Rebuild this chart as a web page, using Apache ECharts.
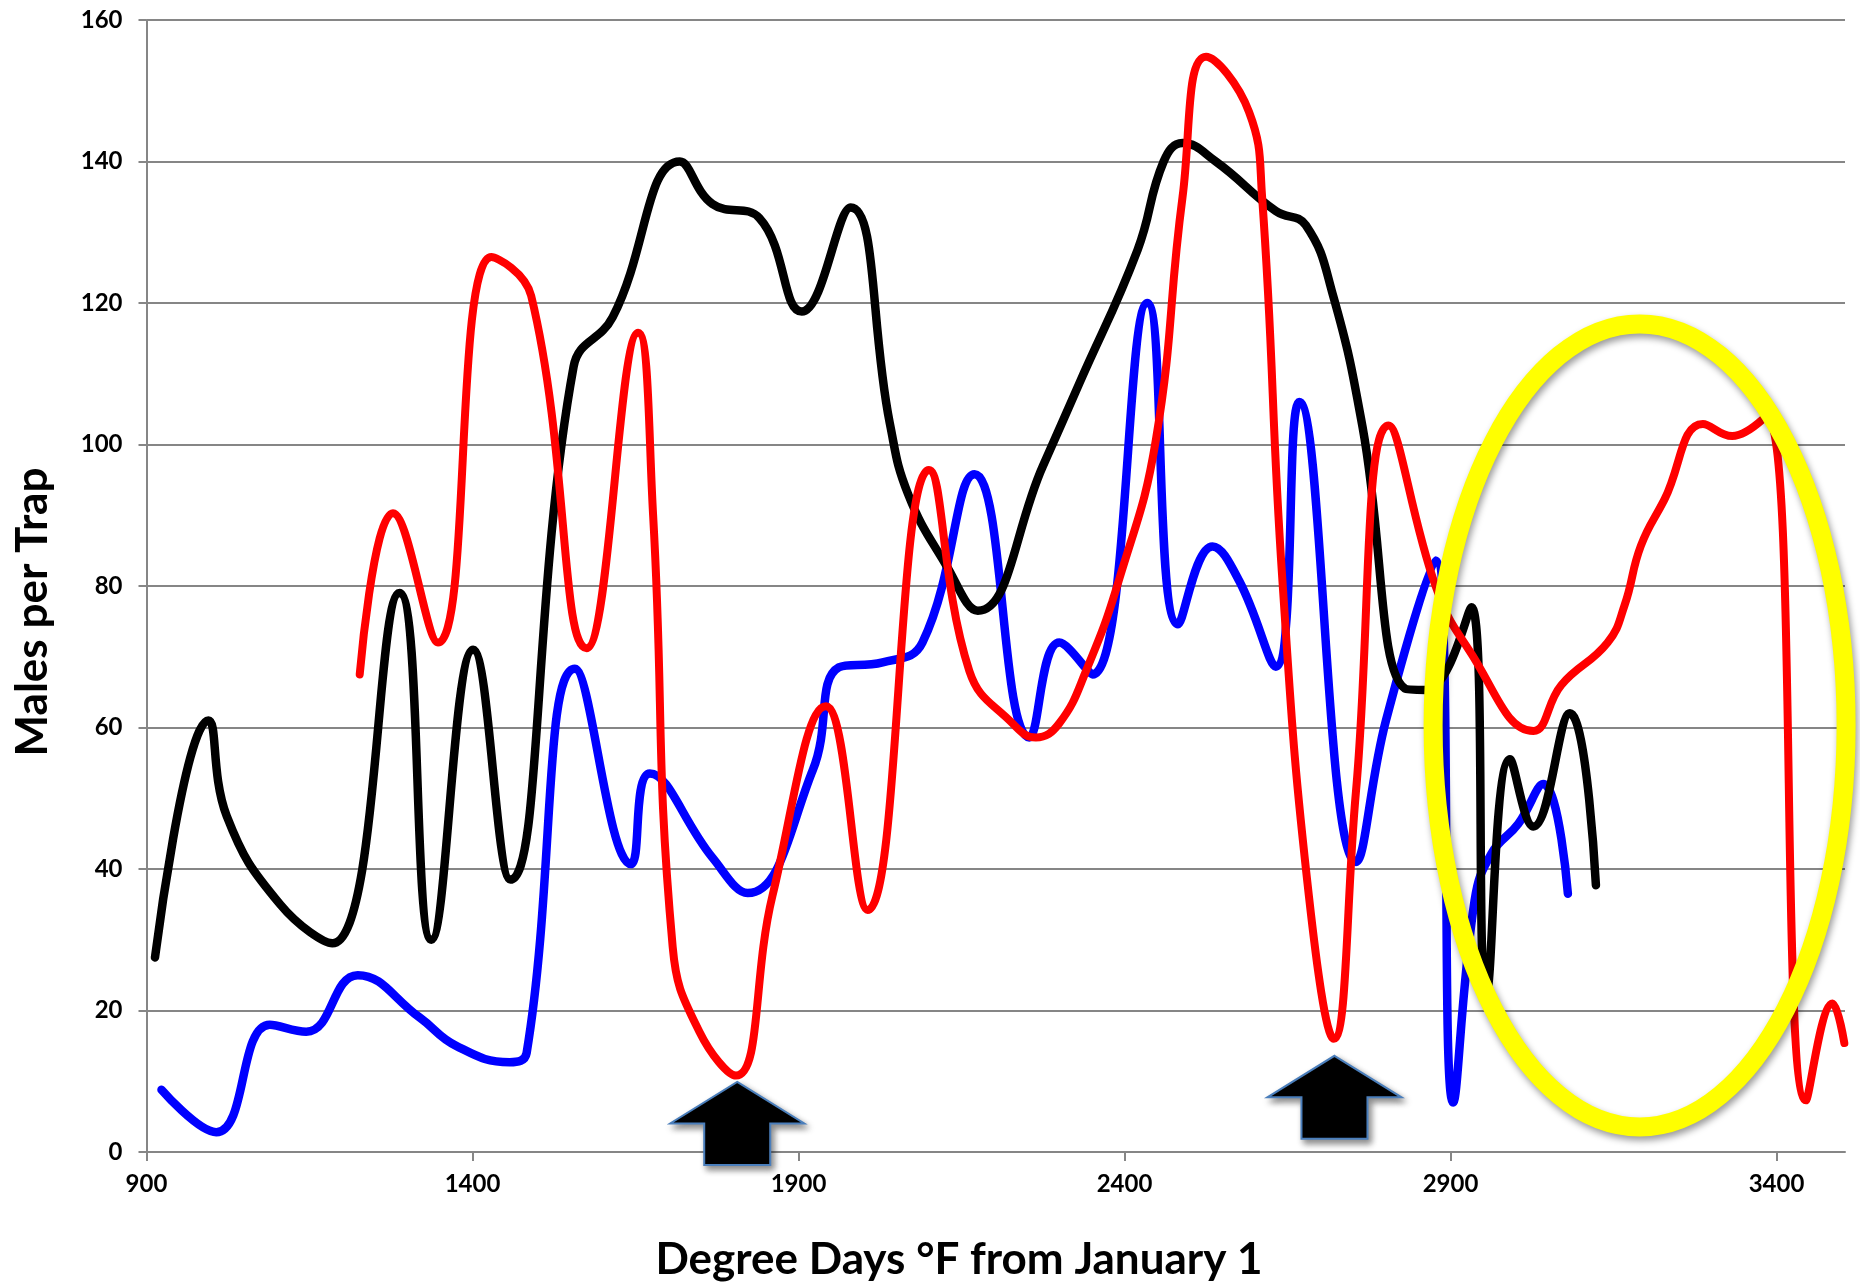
<!DOCTYPE html>
<html>
<head>
<meta charset="utf-8">
<script src="https://cdn.jsdelivr.net/npm/echarts@6/dist/echarts.min.js"></script>
<style>
html,body{margin:0;padding:0;background:#fff;}
#chart{width:1860px;height:1285px;}
</style>
</head>
<body>
<div id="chart"></div>
<script>
// ---- Data (Degree Days °F, Males per Trap) ----
const xTicks = [900, 1400, 1900, 2400, 2900, 3400];
const yTicks = [0, 20, 40, 60, 80, 100, 120, 140, 160];

const blackX = [913, 995, 1023, 1105, 1185, 1288, 1337, 1401, 1458, 1555, 1615, 1718, 1768, 1840, 1905, 1980, 2040, 2068, 2126, 2175, 2275, 2330, 2420, 2460, 2489, 2540, 2632, 2678, 2720, 2765, 2830, 2862, 2932, 2955, 2991, 3027, 3083, 3123];
const blackY = [27.5, 61, 47.5, 35, 29.5, 79, 30, 71, 38.5, 111, 118, 140, 134, 132, 118.8, 133.5, 103, 93, 83, 76.5, 97, 108.5, 127.5, 140, 142.6, 140, 133, 131, 121, 102.5, 65.5, 65.3, 77, 22.5, 55.5, 46, 62, 37.7];

const blueX = [923, 1007, 1089, 1145, 1224, 1319, 1375, 1457, 1483, 1557, 1643, 1672, 1768, 1822, 1922, 1962, 2029, 2090, 2170, 2254, 2300, 2351, 2435, 2482, 2535, 2576, 2632, 2668, 2755, 2801, 2877, 2904, 2937, 2963, 3004, 3042, 3080];
const blueY = [8.8, 2.8, 18, 17, 25, 19, 15, 12.7, 14, 68.3, 40.7, 53.5, 41.6, 36.6, 54, 68.5, 69.2, 72, 95.8, 58.6, 72, 67.5, 120, 74.6, 85.6, 80.7, 68.6, 106, 41, 61, 83.6, 7, 35.6, 42.2, 46.4, 52, 36.5];

const redX = [1227, 1278, 1347, 1429, 1490, 1575, 1654, 1677, 1707, 1748, 1804, 1860, 1942, 2006, 2100, 2162, 2228, 2264, 2300, 2341, 2392, 2448, 2489, 2525, 2591, 2611, 2642, 2683, 2721, 2755, 2805, 2877, 2928, 3027, 3070, 3141, 3167, 3192, 3228, 3287, 3332, 3385, 3445, 3486, 3504];
const redY = [67.5, 90.3, 72, 126.5, 121, 71.2, 115.8, 90, 29, 17, 10.8, 36.2, 63, 34.2, 96.4, 68, 60.6, 58.6, 60.6, 68, 81, 100.6, 135, 154.8, 147, 135, 81, 36, 16, 51, 102.7, 80, 71, 59.5, 66, 72, 77.3, 85.7, 92.2, 102.9, 101.2, 104, 7.3, 21, 15.4];

// annotation anchors (data coordinates)
const arrowTips = [[1806, 9.9], [2722, 13.6]];
const ellipseCenter = [3190, 60.3];

const pairs = (xs, ys) => xs.map((x, i) => [x, ys[i]]);
const FONT = 'Lato, "Open Sans", sans-serif';
const GRAY = '#868686';

const chart = echarts.init(document.getElementById('chart'), null, {renderer: 'canvas'});

const lineSeries = (name, color, xs, ys, w) => ({
  name, type: 'line', smooth: 0.45, showSymbol: false, symbol: 'none',
  data: pairs(xs, ys), clip: true,
  lineStyle: {color, width: w, cap: 'round', join: 'round'},
  itemStyle: {color}, emphasis: {disabled: true}, animation: false
});

chart.setOption({
  animation: false,
  backgroundColor: '#ffffff',
  grid: {left: 146.5, right: 15, top: 20, bottom: 133, containLabel: false, outerBoundsMode: 'none'},
  xAxis: {
    type: 'value', min: 900, max: 3505, interval: 500,
    axisLine: {show: true, onZero: false, lineStyle: {color: GRAY, width: 2}},
    axisTick: {show: true, length: 9, lineStyle: {color: GRAY, width: 2}, customValues: xTicks},
    axisLabel: {show: true, margin: 20, color: '#000', fontFamily: FONT, fontSize: 24, fontWeight: 'bold',
      customValues: xTicks,
      formatter: v => (xTicks.indexOf(v) >= 0 ? String(v) : '')},
    splitLine: {show: false}
  },
  yAxis: {
    type: 'value', min: 0, max: 160, interval: 20,
    axisLine: {show: true, lineStyle: {color: GRAY, width: 2}},
    axisTick: {show: true, length: 8, lineStyle: {color: GRAY, width: 2}},
    axisLabel: {margin: 24, color: '#000', fontFamily: FONT, fontSize: 24, fontWeight: 'bold'},
    splitLine: {show: true, lineStyle: {color: GRAY, width: 2}}
  },
  series: [
    lineSeries('Blue', '#0000ff', blueX, blueY, 8.5),
    lineSeries('Black', '#000000', blackX, blackY, 8.5),
    lineSeries('Red', '#ff0000', redX, redY, 8)
  ]
});

function arrowPoints(tip) {
  const [tx, ty] = tip;
  const hw = 67, sw = 33, hh = 41.5, th = 83;
  return [[tx, ty], [tx + hw, ty + hh], [tx + sw, ty + hh], [tx + sw, ty + th],
          [tx - sw, ty + th], [tx - sw, ty + hh], [tx - hw, ty + hh]];
}

const tipsPx = arrowTips.map(p => chart.convertToPixel({gridIndex: 0}, p));
const cPx = chart.convertToPixel({gridIndex: 0}, ellipseCenter);

const graphics = [];
tipsPx.forEach((t, i) => {
  graphics.push({
    type: 'polygon', id: 'arrow' + i, z: 100,
    shape: {points: arrowPoints(t)},
    style: {fill: '#000000', stroke: '#4a7ebb', lineWidth: 2,
      shadowBlur: 6, shadowOffsetX: 3, shadowOffsetY: 4, shadowColor: 'rgba(0,0,0,0.45)'}
  });
});
graphics.push({
  type: 'ellipse', id: 'ring', z: 100,
  shape: {cx: cPx[0], cy: cPx[1], rx: 206.5, ry: 401.5},
  style: {fill: null, stroke: '#ffff00', lineWidth: 19,
    shadowBlur: 7, shadowOffsetX: 2, shadowOffsetY: 4, shadowColor: 'rgba(0,0,0,0.4)'}
});
graphics.push({
  type: 'text', id: 'ytitle', z: 100,
  x: 33, y: 612, rotation: Math.PI / 2,
  style: {text: 'Males per Trap', fill: '#000', font: 'bold 44px ' + FONT,
    align: 'center', verticalAlign: 'middle'}
});
graphics.push({
  type: 'text', id: 'xtitle', z: 100,
  x: 959, y: 1260,
  style: {text: 'Degree Days °F from January 1', fill: '#000', font: 'bold 44px ' + FONT,
    align: 'center', verticalAlign: 'middle'}
});
chart.setOption({graphic: graphics});
</script>
</body>
</html>
